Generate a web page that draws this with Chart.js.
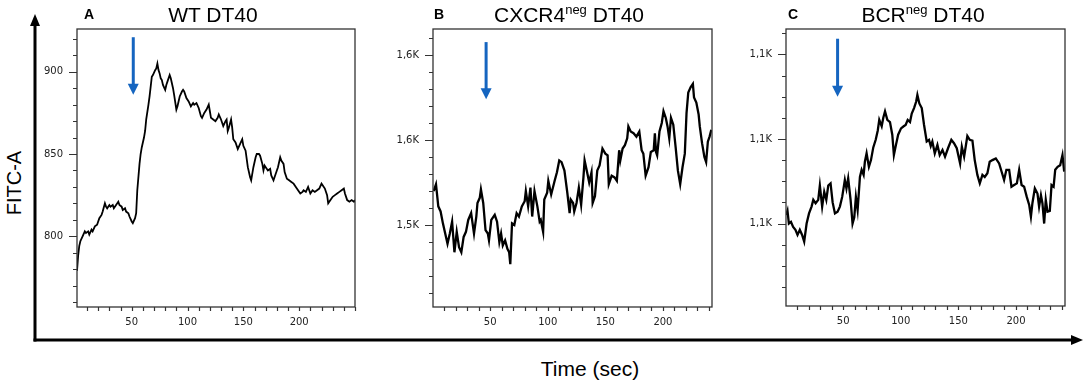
<!DOCTYPE html>
<html>
<head>
<meta charset="utf-8">
<script src="https://cdn.jsdelivr.net/npm/chart.js@4.4.1/dist/chart.umd.min.js"></script>
<style>
  html, body { margin: 0; padding: 0; background: #fff; }
  #wrap { position: relative; width: 1084px; height: 383px; overflow: hidden; font-family: 'Liberation Sans', Arial, sans-serif; }
  canvas { position: absolute; top: 0; }
  .txt { position: absolute; transform: translate(-50%, -50%); white-space: nowrap; color: #000; line-height: 1; }
  .panel { font-weight: bold; font-size: 14px; }
  .title { font-size: 21px; }
  .title sup { font-size: 13px; vertical-align: 0; position: relative; top: -8px; }
  .axis { font-size: 20px; }
</style>
</head>
<body>
<div id="wrap">
  <svg width="1084" height="383" style="position:absolute;left:0;top:0">
    <line x1="35" y1="341.5" x2="35" y2="24" stroke="#000" stroke-width="3"/>
    <polygon points="35,14 30,26 40,26" fill="#000"/>
    <line x1="33.5" y1="340" x2="1072" y2="340" stroke="#000" stroke-width="3"/>
    <polygon points="1083,340 1071,335 1071,345" fill="#000"/>
  </svg>

  <canvas id="chartA" width="335" height="340" style="left:30px"></canvas>
  <canvas id="chartB" width="330" height="340" style="left:390px"></canvas>
  <canvas id="chartC" width="330" height="340" style="left:745px"></canvas>

  <div class="txt panel" style="left:89px;top:14px">A</div>
  <div class="txt title" style="left:213px;top:14px">WT DT40</div>
  <div class="txt panel" style="left:439px;top:14px">B</div>
  <div class="txt title" style="left:569px;top:14px">CXCR4<sup>neg</sup> DT40</div>
  <div class="txt panel" style="left:793px;top:14px">C</div>
  <div class="txt title" style="left:923px;top:14px">BCR<sup>neg</sup> DT40</div>

  <div class="txt axis" style="left:14px;top:183px;transform:translate(-50%,-50%) rotate(-90deg)">FITC-A</div>
  <div class="txt axis" style="left:590px;top:368px;font-size:21px">Time (sec)</div>
</div>

<script>
// Panel A - WT DT40 (time in sec, FITC-A mean)
const timeA = [1,2,3,4,6,8,9,11,12,14,
  15,17,19,21,23,24,26,27,28,30,
  31,33,34,36,38,39,41,42,44,45,
  47,48,50,51,53,54,55,57,58,59,
  61,62,63,65,66,68,69,71,72,73,
  74,75,76,77,78,80,81,82,84,85,
  86,87,88,90,91,93,95,96,97,99,
  101,103,105,106,108,110,112,113,115,117,
  119,120,121,123,125,127,128,130,132,134,
  135,136,137,139,140,141,143,145,147,149,
  150,152,154,156,157,159,161,162,164,165,
  167,168,169,170,172,174,175,177,179,181,
  183,184,186,187,189,191,193,195,197,199,
  201,203,204,206,208,210,212,214,216,218,
  220,221,223,225,226,228,230,232,234,236,
  238,240,241,243,245,247,249,250];
const fitcA = [779,788,794,797,800,803,802,803,801,804,
  803,806,807,811,813,815,820,818,817,819,
  818,819,817,819,821,819,818,816,817,815,
  814,812,809,808,811,814,828,844,850,854,
  860,864,871,880,885,897,898,901,902,905,
  901,899,896,895,892,889,892,894,898,896,
  893,890,886,877,879,885,888,889,888,884,
  882,879,881,880,881,878,873,872,875,877,
  880,876,872,871,870,872,874,871,867,870,
  871,864,866,871,866,859,857,853,856,859,
  855,852,842,836,834,842,848,850,850,849,
  844,840,843,842,840,841,837,834,838,842,
  848,846,844,839,835,834,833,832,830,828,
  826,827,828,827,830,826,828,827,828,829,
  832,831,829,825,820,822,824,825,826,827,
  828,829,826,822,821,822,821,822];

// Panel B - CXCR4neg DT40
const timeB = [1,3,5,7,9,11,13,15,17,19,
  21,23,25,27,29,31,33.5,36,38,39,
  41,42,44,46,48,49,51,54,56,58,
  59.5,61,63,65,66.5,67.5,69,71,73,75,
  77.5,80,81,83,85,86.5,88.5,91,93,94,
  96,97,99.5,100.5,103,106,108,110,112,114.5,
  117,119,120,122,123,125,127,129,131,132,
  134.5,136,138,139,141,143,145,147.5,150,152,
  153,155.5,158,160,162,163,165,167,169,170,
  172,174.5,177,179.5,181.5,183,185,187.5,189.5,192,
  193,194,195,197,199,200.5,202.5,204,205.5,207,
  209,211,213,215,217,219,220.5,222,224,226,
  227,229,231,232,234,236,237.5,239,240.5,242];
const fitcB = [1570,1574,1561,1558,1551,1545,1539,1545,1552,1534,
  1546,1537,1534,1543,1546,1553,1557,1545,1555,1563,
  1566,1571,1563,1547,1545,1541,1553,1556,1552,1540,
  1545,1538,1541,1536,1534,1527,1551,1550,1557,1555,
  1561,1564,1570,1561,1572,1555,1570,1561,1552,1553,
  1546,1565,1569,1576,1568,1576,1581,1588,1587,1582,
  1569,1557,1565,1563,1558,1563,1572,1562,1578,1588,
  1580,1575,1581,1563,1567,1582,1585,1595,1592,1591,
  1574,1579,1578,1576,1594,1588,1595,1597,1601,1608,
  1605,1604,1602,1605,1594,1592,1579,1584,1593,1594,
  1604,1593,1591,1605,1610,1617,1613,1608,1601,1613,
  1609,1596,1582,1574,1584,1592,1616,1628,1631,1633,
  1625,1622,1615,1608,1598,1590,1587,1599,1602,1606];

// Panel C - BCRneg DT40
const timeC = [0.5,1.6,2.8,4.6,6.5,8.5,10.3,12.3,14.3,16.1,
  18.2,20.3,22.5,24,26,28.3,29.7,31.7,33.5,35.3,
  37,39,40.8,42.8,45.1,47.1,49.1,51.4,52.8,54.3,
  56.4,58.1,59.6,61,62.5,64.5,66,67.7,68.8,70.3,
  72.3,74.1,76.1,78.2,80,81.3,83.4,84.8,86.3,88.3,
  90.6,92.6,94,95.8,97.7,100.2,102.5,104.2,106,108,
  109.5,111.5,113.3,114.4,116.1,118.2,120.2,122.5,124.5,126,
  127.4,129.5,131.8,133.8,136.2,138.4,141,143.9,146.2,148.6,
  151.5,153,155,157.8,159.9,162.2,164.2,166.5,168.6,170.9,
  172.9,175.2,177.2,179.6,182.5,185.4,187.5,189.7,191.7,194.1,
  196.1,198.4,200.8,202.8,204.9,207.1,209.4,211.5,213,214.3,
  216.4,218.7,220.1,221.7,223,224.5,225.9,227.4,229.4,230.9,
  232.7,234.1,236.2,238.4,240.4,241.9];
const fitcC = [1082,1083,1080,1080.4,1079.2,1078.5,1077.3,1078.5,1077.3,1075.7,
  1080,1082.4,1084,1085.6,1084.8,1085.6,1089,1084,1087.5,1085.6,
  1089,1089.5,1085,1082.4,1082.8,1084,1086.3,1090.3,1088.3,1090.7,
  1085.6,1080,1081.5,1086.3,1083.2,1091,1092.7,1091.5,1094.6,1096.6,
  1093.4,1095,1098,1099.8,1102,1104.5,1103,1105,1106.5,1104.5,
  1104,1101,1096.2,1098.6,1101,1102.5,1103,1103.3,1104.5,1104,
  1106,1107.3,1108.8,1110.4,1108.4,1107.3,1103.3,1099.4,1099.8,1098.3,
  1099.4,1096.6,1098.6,1096.2,1097.4,1095.8,1097.8,1099.8,1099,1097.8,
  1094.2,1098.2,1095.8,1100.7,1099.8,1099.6,1095,1091.5,1089.5,1091.5,
  1091,1091.9,1094.6,1095,1095.4,1094.2,1092.3,1090.3,1092.7,1092.7,
  1088.7,1089.1,1089.5,1092.7,1089.1,1088.7,1086.3,1084.4,1081.6,1084.8,
  1088.3,1087.1,1084,1086.7,1084.8,1080,1085.6,1082.8,1083,1089.1,
  1088.7,1092.7,1093.4,1093.8,1096.2,1092.3];

// x axis (time) ticks, shared by all panels
const xMajorTicks = [50, 100, 150, 200];
const xMinorStep = 10;

// y axis ticks + labels per panel (as printed on the figure)
const yMajorA = [800, 850, 900];
const yLabelA = ['800', '850', '900'];
const yMajorB = [1550, 1600, 1650];
const yLabelB = ['1,5K', '1,6K', '1,6K'];
const yMajorC = [1080, 1100, 1120];
const yLabelC = ['1,1K', '1,1K', '1,1K'];

// stimulus arrows: time, top value, tip value
const arrowTimes = [51.4, 46.5, 45.1];
const arrowTops = [921, 1657.6, 1123.7];
const arrowTips = [886, 1624, 1110];

const range = (from, to, step) => {
    const out = [];
    for (let v = from; v <= to + 1e-9; v += step) out.push(Math.round(v * 100) / 100);
    return out;
};

// frame, tick marks and the blue arrow
const framePlugin = {
    id: 'frame',
    afterDraw(chart, args, opts) {
        const { ctx, chartArea: a, scales } = chart;
        ctx.save();
        ctx.strokeStyle = '#333';
        ctx.lineWidth = 1.3;
        ctx.strokeRect(a.left, a.top, a.right - a.left, a.bottom - a.top);

        ctx.lineWidth = 1.2;
        ctx.beginPath();
        scales.y.ticks.forEach(t => {
            const y = Math.round(scales.y.getPixelForValue(t.value)) + 0.5;
            const len = opts.yMajors.includes(t.value) ? 8 : 4;
            ctx.moveTo(a.left - len, y);
            ctx.lineTo(a.left, y);
        });
        scales.x.ticks.forEach(t => {
            const x = Math.round(scales.x.getPixelForValue(t.value)) + 0.5;
            ctx.moveTo(x, a.bottom);
            ctx.lineTo(x, a.bottom + 4);
        });
        ctx.stroke();

        // stimulus arrow
        const ax = scales.x.getPixelForValue(opts.arrow[0]);
        const yTop = scales.y.getPixelForValue(opts.arrow[1]);
        const yTip = scales.y.getPixelForValue(opts.arrow[2]);
        ctx.strokeStyle = '#1565c0';
        ctx.fillStyle = '#1565c0';
        ctx.lineWidth = 3;
        ctx.beginPath();
        ctx.moveTo(ax, yTop);
        ctx.lineTo(ax, yTip - 9);
        ctx.stroke();
        ctx.beginPath();
        ctx.moveTo(ax - 5.5, yTip - 11);
        ctx.lineTo(ax + 5.5, yTip - 11);
        ctx.lineTo(ax, yTip);
        ctx.closePath();
        ctx.fill();
        ctx.restore();
    }
};

const tickFont = { family: "'DejaVu Sans', sans-serif", size: 10 };

function makePanel(id, times, values, cfg) {
    const points = times.map((t, i) => ({ x: t, y: values[i] }));
    const xTicks = range(xMinorStep, cfg.xMax, xMinorStep);
    const yTicks = range(cfg.yMinor[0], cfg.yMinor[1], cfg.yMinor[2]);
    return new Chart(document.getElementById(id), {
        type: 'line',
        data: {
            datasets: [{
                data: points,
                borderColor: '#000',
                borderWidth: cfg.lineWidth,
                pointRadius: 0,
                tension: 0
            }]
        },
        options: {
            responsive: false,
            animation: false,
            devicePixelRatio: 1,
            layout: { padding: { top: 29, right: cfg.padRight, left: 0, bottom: 0 } },
            plugins: {
                legend: { display: false },
                tooltip: { enabled: false },
                frame: { yMajors: cfg.yMajors, arrow: cfg.arrow }
            },
            scales: {
                x: {
                    type: 'linear',
                    min: cfg.xMin,
                    max: cfg.xMax,
                    afterBuildTicks: s => { s.ticks = xTicks.map(v => ({ value: v })); },
                    afterFit: s => { s.height = cfg.xHeight; },
                    grid: { drawOnChartArea: false, drawTicks: false },
                    border: { display: false },
                    ticks: {
                        autoSkip: false,
                        maxRotation: 0,
                        padding: 9,
                        color: '#222',
                        font: tickFont,
                        callback: v => xMajorTicks.includes(v) ? String(v) : ''
                    }
                },
                y: {
                    min: cfg.yMin,
                    max: cfg.yMax,
                    afterBuildTicks: s => { s.ticks = yTicks.map(v => ({ value: v })); },
                    afterFit: s => { s.width = cfg.yWidth; },
                    grid: { drawOnChartArea: false, drawTicks: false },
                    border: { display: false },
                    ticks: {
                        autoSkip: false,
                        padding: 14,
                        color: '#222',
                        font: tickFont,
                        callback: v => {
                            const i = cfg.yMajors.indexOf(v);
                            return i >= 0 ? cfg.yLabels[i] : '';
                        }
                    }
                }
            }
        },
        plugins: [framePlugin]
    });
}

makePanel('chartA', timeA, fitcA, {
    xMin: 1, xMax: 250, yMin: 757, yMax: 926,
    yMinor: [760, 920, 10], yMajors: yMajorA, yLabels: yLabelA,
    yWidth: 47, padRight: 10, xHeight: 33, lineWidth: 1.8,
    arrow: [arrowTimes[0], arrowTops[0], arrowTips[0]]
});
makePanel('chartB', timeB, fitcB, {
    xMin: 0.4, xMax: 242.6, yMin: 1501.8, yMax: 1665.3,
    yMinor: [1510, 1660, 10], yMajors: yMajorB, yLabels: yLabelB,
    yWidth: 43, padRight: 8, xHeight: 33, lineWidth: 2.3,
    arrow: [arrowTimes[1], arrowTops[1], arrowTips[1]]
});
makePanel('chartC', timeC, fitcC, {
    xMin: 0.3, xMax: 242.6, yMin: 1060.5, yMax: 1126,
    yMinor: [1065, 1125, 5], yMajors: yMajorC, yLabels: yLabelC,
    yWidth: 41, padRight: 10, xHeight: 34, lineWidth: 2.3,
    arrow: [arrowTimes[2], arrowTops[2], arrowTips[2]]
});
</script>
</body>
</html>
